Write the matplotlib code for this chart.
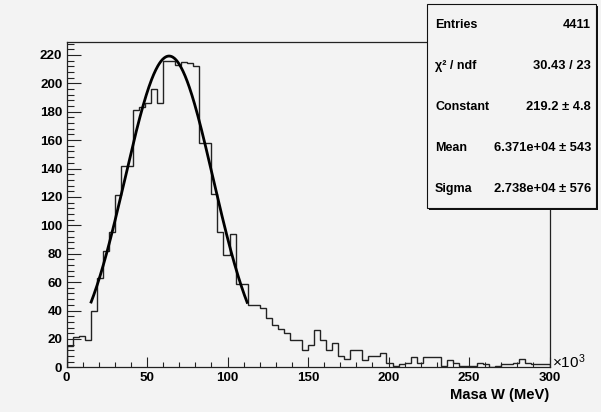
import numpy as np
import matplotlib
matplotlib.use("Agg")
import matplotlib.pyplot as plt
from matplotlib.ticker import MultipleLocator
from matplotlib.patches import Rectangle

# ---- data -------------------------------------------------------------
bin_edges_range = (0.0, 300.0)   # x in units of 10^3 MeV
n_bins = 80
counts = [15, 21, 22, 19, 40, 63, 82, 95, 121, 142,
          142, 181, 183, 186, 196, 186, 216, 216, 213, 215,
          214, 212, 158, 158, 122, 95, 79, 94, 59, 59,
          44, 44, 42, 35, 30, 27, 24, 19, 19, 12,
          16, 26, 19, 12, 17, 8, 6, 12, 12, 5,
          8, 8, 10, 3, 1, 2, 3, 7, 3, 7,
          7, 7, 1, 5, 3, 1, 1, 1, 3, 2,
          0, 1, 2, 2, 3, 6, 3, 2, 2, 2]

fit_constant = 219.2
fit_mean = 63.71      # 10^3 MeV
fit_sigma = 27.38     # 10^3 MeV
fit_range = (15.0, 112.5)

stats_labels = ["Entries", "χ² / ndf", "Constant", "Mean", "Sigma"]
stats_values = ["4411", "30.43 / 23", "219.2 ± 4.8", "6.371e+04 ± 543", "2.738e+04 ± 576"]

x_label = "Masa W (MeV)"
x_ticks = [0, 50, 100, 150, 200, 250, 300]
y_ticks = list(range(0, 221, 20))

# ---- figure -----------------------------------------------------------
W, H = 601, 412
bg = "#f3f3f3"
plt.rcParams["font.family"] = ["Liberation Sans", "DejaVu Sans"]
plt.rcParams["mathtext.default"] = "regular"
fig = plt.figure(figsize=(W / 100, H / 100), dpi=100, facecolor=bg)

ax_l, ax_r = 66.5, 549.5
ax_b, ax_t = 367.3, 41.7
ax = fig.add_axes([ax_l / W, 1 - ax_b / H, (ax_r - ax_l) / W, (ax_b - ax_t) / H])
ax.set_facecolor(bg)

edges = np.linspace(bin_edges_range[0], bin_edges_range[1], n_bins + 1)
ax.stairs(counts, edges, color="#222222", linewidth=1.0, baseline=0)

xf = np.linspace(fit_range[0], fit_range[1], 300)
yf = fit_constant * np.exp(-0.5 * ((xf - fit_mean) / fit_sigma) ** 2)
ax.plot(xf, yf, color="black", linewidth=2.0, solid_capstyle="butt")

ax.set_xlim(0, 300)
ax.set_ylim(0, 229.3)

ax.set_xticks(x_ticks)
ax.set_yticks(y_ticks)
ax.xaxis.set_minor_locator(MultipleLocator(10))
ax.yaxis.set_minor_locator(MultipleLocator(4))
ax.tick_params(axis="both", which="both", direction="in", color="#222222", width=0.8,
               top=False, right=False)
ax.tick_params(axis="y", which="major", length=10.4, pad=3.0)
ax.tick_params(axis="y", which="minor", length=5.2)
ax.tick_params(axis="x", which="major", length=7.0, pad=3.5)
ax.tick_params(axis="x", which="minor", length=3.5)
for lab in ax.get_xticklabels() + ax.get_yticklabels():
    lab.set_fontweight("bold")
    lab.set_fontsize(9.6)
for s in ax.spines.values():
    s.set_color("#222222")
    s.set_linewidth(0.9)

fig.text(549 / W, 1 - 395 / H, x_label, ha="right", va="center",
         fontsize=10.6, fontweight="bold")
fig.text(552 / W, 1 - 362 / H, r"$\times$10$^{3}$", ha="left", va="center", fontsize=11)

# ---- stats box --------------------------------------------------------
bx0, bx1, by0, by1 = 427, 596, 4, 208
shadow = Rectangle(((bx0 + 2) / W, 1 - (by1 + 2) / H), (bx1 - bx0) / W, (by1 - by0) / H,
                   transform=fig.transFigure, facecolor="#111111", edgecolor="none", zorder=5)
box = Rectangle((bx0 / W, 1 - by1 / H), (bx1 - bx0) / W, (by1 - by0) / H,
                transform=fig.transFigure, facecolor=bg, edgecolor="#111111",
                linewidth=0.8, zorder=6)
fig.add_artist(shadow)
fig.add_artist(box)
rows_y = [25, 66, 107, 148, 189]
for lab, val, yy in zip(stats_labels, stats_values, rows_y):
    fig.text(435 / W, 1 - yy / H, lab, ha="left", va="center", fontsize=9.0,
             fontweight="bold", zorder=7)
    fig.text(591 / W, 1 - yy / H, val, ha="right", va="center", fontsize=9.3,
             fontweight="bold", zorder=7)

fig.savefig("out.png", dpi=100, facecolor=bg)
